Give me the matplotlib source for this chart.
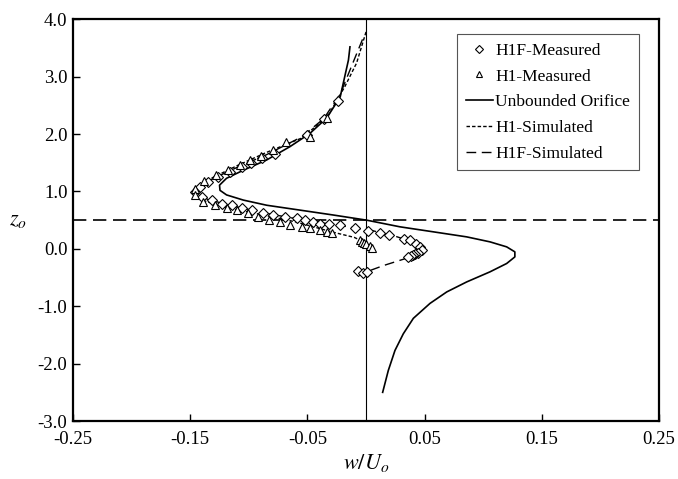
import matplotlib
matplotlib.use("Agg")
import matplotlib.pyplot as plt
from matplotlib.lines import Line2D

plt.rcParams['font.family'] = ['Liberation Serif', 'DejaVu Serif']
plt.rcParams['mathtext.fontset'] = 'stix'
plt.rcParams['axes.unicode_minus'] = False

# unbounded orifice (solid)
orifice_w = [-0.0137, -0.015, -0.022, -0.0335, -0.048, -0.065, -0.0847, -0.1047,
             -0.119, -0.125, -0.1246, -0.119, -0.1047, -0.0847, -0.0563, -0.028,
             0.0006, 0.029, 0.0574, 0.0859, 0.1058, 0.120, 0.127, 0.127, 0.120,
             0.1058, 0.0859, 0.0689, 0.0546, 0.0404, 0.0318, 0.0247, 0.019, 0.0142]
orifice_z = [3.52, 3.29, 2.65, 2.28, 2.01, 1.78, 1.55, 1.37,
             1.23, 1.11, 1.02, 0.94, 0.85, 0.76, 0.675, 0.59,
             0.50, 0.384, 0.297, 0.209, 0.122, 0.035, -0.052, -0.14, -0.255,
             -0.40, -0.576, -0.75, -0.95, -1.21, -1.48, -1.77, -2.12, -2.50]

# H1 simulated (fine dashes)
h1sim_w = [0.0, -0.008, -0.018, -0.033, -0.055, -0.085, -0.11, -0.135, -0.147,
           -0.14, -0.12, -0.09, -0.06, -0.03, -0.01, 0.0, 0.005]
h1sim_z = [3.78, 3.24, 2.83, 2.30, 1.93, 1.68, 1.45, 1.20, 1.00,
           0.85, 0.72, 0.60, 0.47, 0.30, 0.20, 0.10, 0.0]

# H1F simulated (long dashes)
h1fsim_w = [-0.003, -0.012, -0.022, -0.036, -0.055, -0.085, -0.11, -0.135, -0.145,
            -0.135, -0.11, -0.08, -0.05, -0.02, 0.005, 0.025, 0.04, 0.048,
            0.045, 0.032, 0.015, 0.003]
h1fsim_z = [3.65, 3.2, 2.7, 2.27, 1.95, 1.64, 1.42, 1.18, 1.0,
            0.86, 0.73, 0.60, 0.49, 0.40, 0.32, 0.22, 0.12, 0.0,
            -0.08, -0.18, -0.29, -0.38]

# H1F measured (diamonds)
h1f_w = [-0.0236, -0.036, -0.0506, -0.078, -0.089, -0.098, -0.106, -0.116, -0.126,
         -0.1345, -0.1416, -0.146, -0.14, -0.1316, -0.123, -0.1146, -0.106, -0.0975,
         -0.0876, -0.079, -0.069, -0.059, -0.052, -0.045, -0.039, -0.032, -0.022,
         -0.009, 0.002, 0.012, 0.020, 0.032, 0.0375, 0.043, 0.046, 0.0475, 0.0447,
         0.042, 0.040, 0.038, 0.036, -0.0066, -0.003, 0.0006]
h1f_z = [2.57, 2.27, 1.98, 1.66, 1.58, 1.49, 1.43, 1.34, 1.26,
         1.17, 1.08, 0.995, 0.91, 0.85, 0.79, 0.76, 0.705, 0.675,
         0.62, 0.59, 0.56, 0.53, 0.50, 0.47, 0.44, 0.44, 0.41,
         0.36, 0.31, 0.28, 0.24, 0.18, 0.15, 0.09, 0.035, -0.02, -0.07,
         -0.09, -0.11, -0.13, -0.15, -0.38, -0.42, -0.40]

# H1 measured (triangles)
h1_w = [-0.0335, -0.048, -0.068, -0.079, -0.09, -0.099, -0.1075, -0.118, -0.128,
        -0.138, -0.146, -0.146, -0.139, -0.129, -0.119, -0.110, -0.1004, -0.092,
        -0.083, -0.073, -0.065, -0.055, -0.048, -0.039, -0.0335, -0.029,
        -0.005, -0.0037, -0.002, 0.0, 0.003, 0.005]
h1_z = [2.28, 1.95, 1.87, 1.72, 1.61, 1.55, 1.46, 1.38, 1.28,
        1.18, 1.05, 0.94, 0.82, 0.76, 0.705, 0.675, 0.62, 0.56,
        0.50, 0.47, 0.41, 0.38, 0.36, 0.33, 0.30, 0.27,
        0.15, 0.12, 0.10, 0.09, 0.05, 0.007]

x_ticks = [-0.25, -0.15, -0.05, 0.05, 0.15, 0.25]
y_ticks = [-3.0, -2.0, -1.0, 0.0, 1.0, 2.0, 3.0, 4.0]

fig = plt.figure(figsize=(6.78, 4.79), dpi=100)
ax = fig.add_axes([0.1077, 0.121, 0.8643, 0.8387])

ax.axvline(0.0, color='black', lw=0.8)
ax.axhline(0.5, color='black', lw=1.2, dashes=(8, 4))

ax.plot(orifice_w, orifice_z, color='black', lw=1.2, label='Unbounded Orifice')
ax.plot(h1sim_w, h1sim_z, color='black', lw=1.0, dashes=(2.5, 1.5), label='H1-Simulated')
ax.plot(h1fsim_w, h1fsim_z, color='black', lw=1.0, dashes=(7, 4), label='H1F-Simulated')
ax.plot(h1f_w, h1f_z, ls='none', marker='D', ms=5.5, mfc='white', mec='black', mew=0.8,
        label='H1F-Measured')
ax.plot(h1_w, h1_z, ls='none', marker='^', ms=6, mfc='white', mec='black', mew=0.8,
        label='H1-Measured')

ax.set_xlim(-0.25, 0.25)
ax.set_ylim(-3.0, 4.0)
ax.set_xticks(x_ticks)
ax.set_xticklabels(['%.2f' % v for v in x_ticks])
ax.set_yticks(y_ticks)
ax.set_yticklabels(['%.1f' % v for v in y_ticks])
ax.tick_params(direction='in', length=5, width=1, labelsize=13.5, pad=4)
ax.tick_params(axis='x', pad=7)
for s in ax.spines.values():
    s.set_linewidth(1.6)

ax.set_xlabel(r'$w/U_o$', fontsize=16, labelpad=3)
ax.set_ylabel(r'$z_o$', fontsize=16, rotation=0, labelpad=14, va='center')

handles = [
    Line2D([], [], ls='none', marker='D', ms=4, mfc='white', mec='black', mew=0.8),
    Line2D([], [], ls='none', marker='^', ms=5, mfc='white', mec='black', mew=0.8),
    Line2D([], [], color='black', lw=1.2),
    Line2D([], [], color='black', lw=1.0, dashes=(2.5, 1.5)),
    Line2D([], [], color='black', lw=1.0, dashes=(7, 4)),
]
labels = ['H1F-Measured', 'H1-Measured', 'Unbounded Orifice', 'H1-Simulated', 'H1F-Simulated']
leg = ax.legend(handles, labels, loc='upper right', bbox_to_anchor=(0.98, 0.985),
                fontsize=12.5, fancybox=False, framealpha=1, edgecolor='#555555',
                handlelength=1.6, handletextpad=0.1, labelspacing=0.55, borderpad=0.5)
leg.get_frame().set_linewidth(0.8)

fig.savefig('out.png', dpi=100)
